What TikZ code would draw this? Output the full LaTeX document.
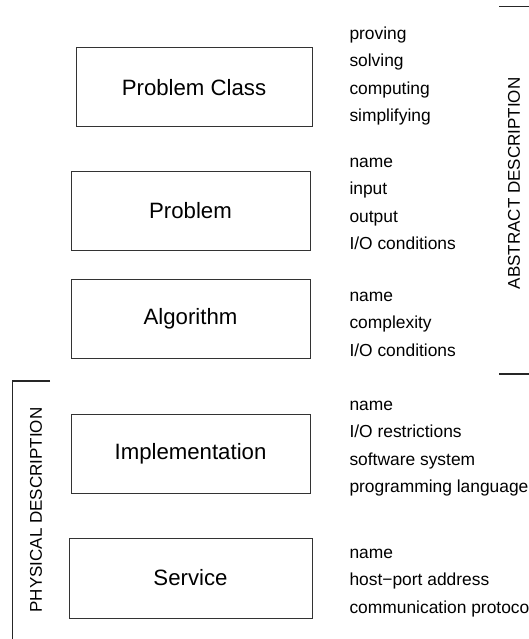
\documentclass[tikz,border=0pt]{standalone}
\usepackage{fontspec}
\setmainfont{Liberation Sans}
\begin{document}
\begin{tikzpicture}[x=1pt,y=-1pt,
  levelbox/.style={draw=black!80,line width=1pt,inner sep=0pt,font=\fontsize{22.2}{26}\selectfont},
  item/.style={anchor=base west,inner sep=0pt,font=\fontsize{17.4}{20}\selectfont},
  sidelabel/.style={rotate=90,inner sep=0pt,font=\fontsize{17}{20}\selectfont},
  bracket/.style={draw=black!85,line width=1.2pt}]
\clip (0,0) rectangle (529,639);
\useasboundingbox (0,0) rectangle (529,639);
% boxes
\node[levelbox,minimum width=236pt,minimum height=79pt] (pc) at (194,87.5) {Problem Class};
\node[levelbox,minimum width=239pt,minimum height=78pt] (pr) at (190.5,211) {Problem};
\node[levelbox,minimum width=239pt,minimum height=79pt] (al) at (190.5,318.5) {Algorithm};
\node[levelbox,minimum width=239pt,minimum height=79pt] (im) at (190.5,453.5) {Implementation};
\node[levelbox,minimum width=243pt,minimum height=80pt] (se) at (190.5,578) {Service};
% item lists
\node[item] (pc1) at (349.3,39.5) {proving};
\node[item] (pc2) at (349.3,66.8) {solving};
\node[item] (pc3) at (349.3,94.1) {computing};
\node[item] (pc4) at (349.3,121.4) {simplifying};
\node[item] (pr1) at (349.3,167.4) {name};
\node[item] (pr2) at (349.3,194.7) {input};
\node[item] (pr3) at (349.3,222) {output};
\node[item] (pr4) at (349.3,249.3) {I/O conditions};
\node[item] (al1) at (349.3,301.4) {name};
\node[item] (al2) at (349.3,328.7) {complexity};
\node[item] (al3) at (349.3,356) {I/O conditions};
\node[item] (im1) at (349.3,410.4) {name};
\node[item] (im2) at (349.3,437.7) {I/O restrictions};
\node[item] (im3) at (349.3,465) {software system};
\node[item] (im4) at (349.3,492.3) {programming language};
\node[item] (se1) at (349.3,558.4) {name};
\node[item] (se2) at (349.3,585.7) {host\textminus port address};
\node[item] (se3) at (349.3,613) {communication protocol};
% side labels and brackets
\node[sidelabel] (abs) at (514,183.5) {ABSTRACT DESCRIPTION};
\node[sidelabel] (phy) at (36,510) {PHYSICAL DESCRIPTION};
\coordinate (a1) at (499,6.7);
\coordinate (a2) at (540,6.7);
\coordinate (a3) at (540,374);
\coordinate (a4) at (499,374);
\draw[bracket] (a1) -- (a2) -- (a3) -- (a4);
\coordinate (p1) at (50,381);
\coordinate (p2) at (12.7,381);
\coordinate (p3) at (12.7,660);
\draw[bracket] (p1) -- (p2) -- (p3);
\end{tikzpicture}
\end{document}
